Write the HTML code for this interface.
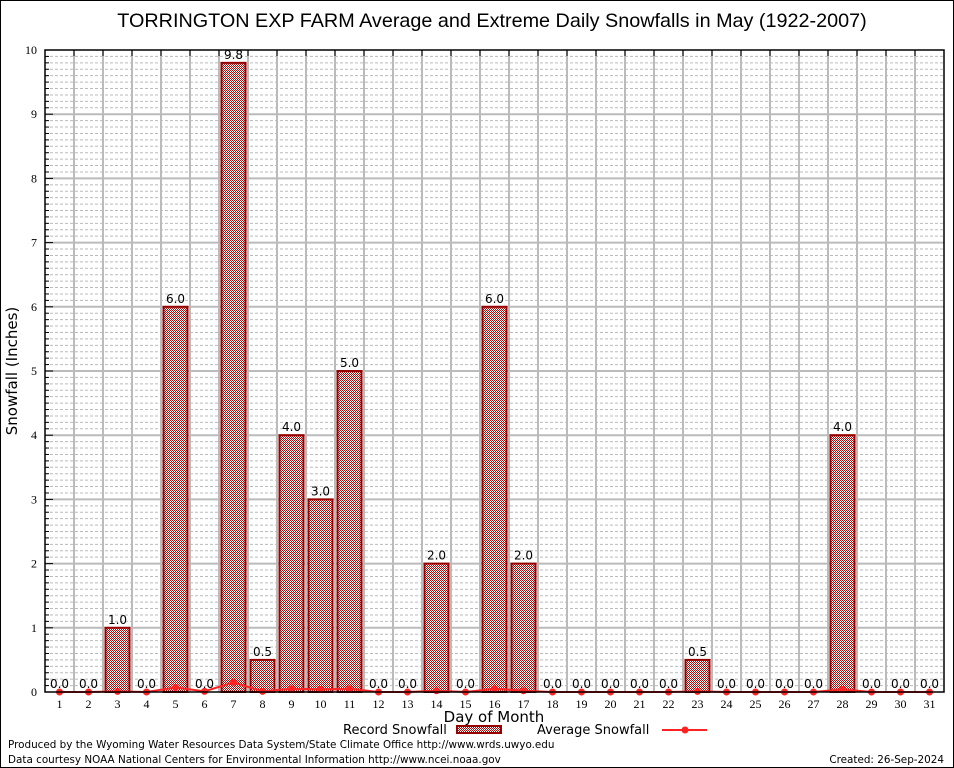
<!DOCTYPE html>
<html><head><meta charset="utf-8"><style>
html,body{margin:0;padding:0;background:#fff}
svg{display:block}
text{font-family:"DejaVu Sans","Liberation Sans",sans-serif}
.tk{font-family:"Liberation Serif",serif;font-size:12px}
</style></head><body>
<svg id="s" width="954" height="768" xmlns="http://www.w3.org/2000/svg">
<defs>
<pattern id="hp" width="2" height="2" patternUnits="userSpaceOnUse">
<rect width="2" height="2" fill="#fff"/><rect width="1" height="1" fill="#a01010"/><rect x="1" y="1" width="1" height="1" fill="#a01010"/>
</pattern>
</defs>
<rect x="0.5" y="0.5" width="953" height="767" fill="#fff" stroke="#000"/>
<text x="492" y="27" font-size="19.8" text-anchor="middle" style="font-family:'Liberation Sans',sans-serif">TORRINGTON EXP FARM Average and Extreme Daily Snowfalls in May (1922-2007)</text>
<g id="g"></g>
<text transform="translate(17,371) rotate(-90)" font-size="15" text-anchor="middle">Snowfall (Inches)</text>
<text x="494" y="722" font-size="15" text-anchor="middle">Day of Month</text>
<text x="343" y="734" font-size="13">Record Snowfall</text>
<rect x="457" y="726" width="44" height="7" fill="url(#hp)" stroke="#900" stroke-width="2"/>
<text x="537" y="734" font-size="13">Average Snowfall</text>
<line x1="662" y1="730" x2="707" y2="730" stroke="#f22" stroke-width="2"/>
<circle cx="685" cy="730" r="3.5" fill="#f22"/>
<text x="8" y="748" font-size="10.4">Produced by the Wyoming Water Resources Data System/State Climate Office http://www.wrds.uwyo.edu</text>
<text x="8" y="763" font-size="10.4">Data courtesy NOAA National Centers for Environmental Information http://www.ncei.noaa.gov</text>
<text x="944" y="763" font-size="10.4" text-anchor="end">Created:  26-Sep-2024</text>
</svg>
<script>
var g=document.getElementById('g'),h='';
var L=45,R=944,T=50,B=692,sy=64.2;
function Y(v){return B-sy*v}
function X(d){return 59.5+29*(d-1)}
for(var i=1;i<100;i++){if(i%10==0)continue;var y=Y(i/10);h+='<line x1="'+L+'" y1="'+y+'" x2="'+R+'" y2="'+y+'" stroke="#bbb" stroke-dasharray="3,2" stroke-width="1"/>';}
for(var i=1;i<10;i++){var y=Y(i);h+='<line x1="'+L+'" y1="'+y+'" x2="'+R+'" y2="'+y+'" stroke="#bbb" stroke-width="2"/>';}
for(var d=1;d<31;d++){var x=L+29*d;h+='<line x1="'+x+'" y1="'+T+'" x2="'+x+'" y2="'+B+'" stroke="#bbb" stroke-width="2"/>';h+='<line x1="'+x+'" y1="'+T+'" x2="'+x+'" y2="'+(T+6)+'" stroke="#000"/>';}
for(var i=0;i<=10;i++){var y=Y(i);h+='<line x1="'+L+'" y1="'+y+'" x2="'+(L+8)+'" y2="'+y+'" stroke="#000"/>';h+='<text class="tk" x="37" y="'+(y+4)+'" text-anchor="end">'+i+'</text>';if(i<10)for(var k=1;k<10;k++){var yy=Y(i+k/10);h+='<line x1="'+L+'" y1="'+yy+'" x2="'+(L+4)+'" y2="'+yy+'" stroke="#000"/>';}}
var rec=[0,0,1,0,6,0,9.8,0.5,4,3,5,0,0,2,0,6,2,0,0,0,0,0,0.5,0,0,0,0,4,0,0,0];
var avg=[0,0,0.01,0,0.07,0.01,0.15,0.01,0.05,0.04,0.05,0,0,0.02,0,0.05,0.02,0,0,0,0,0,0.01,0,0,0,0,0.04,0,0,0];
for(var d=1;d<=31;d++){var x=X(d),v=rec[d-1];
if(v>0)h+='<rect x="'+(x-12)+'" y="'+Y(v)+'" width="24" height="'+(sy*v)+'" fill="url(#hp)" stroke="#900" stroke-width="2"/>';
h+='<text x="'+x+'" y="'+(Y(v)-4)+'" font-size="12" text-anchor="middle">'+v.toFixed(1)+'</text>';
h+='<text class="tk" x="'+x+'" y="708" text-anchor="middle">'+d+'</text>';}
var p='';for(var d=1;d<=31;d++)p+=(d==1?'M':'L')+X(d)+','+Y(avg[d-1]);
h+='<path d="'+p+'" fill="none" stroke="#f22" stroke-width="2"/>';
for(var d=1;d<=31;d++)h+='<circle cx="'+X(d)+'" cy="'+Y(avg[d-1])+'" r="3.5" fill="#f22"/>';
h+='<rect x="'+L+'" y="'+T+'" width="'+(R-L)+'" height="'+(B-T)+'" fill="none" stroke="#000" stroke-width="1.5"/>';
g.innerHTML=h;
</script>
</body></html>
